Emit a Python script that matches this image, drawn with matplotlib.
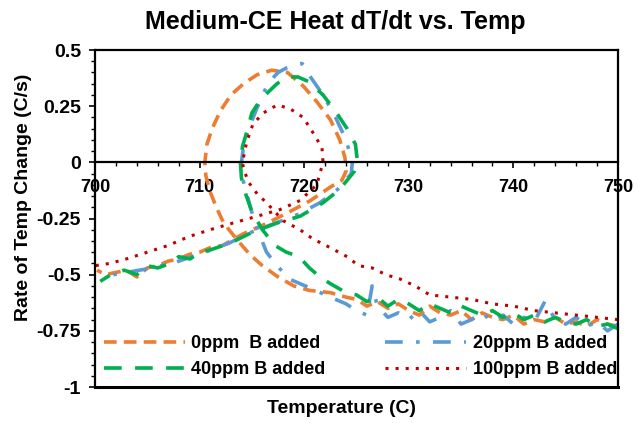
import matplotlib
matplotlib.use("Agg")
import matplotlib.pyplot as plt
from matplotlib.ticker import MultipleLocator

plt.rcParams['font.family'] = ['Liberation Sans', 'DejaVu Sans']

# ---- data (time order: from hot end toward cold end) ----
temp_0ppm = [750, 749, 748, 747, 746, 745, 744, 743, 742, 741, 740, 739, 738, 737, 736, 735, 734, 733, 732,
             731, 730, 729, 728, 727, 726, 725, 724, 722.5, 720.5, 719, 717.5,
             716, 714.8, 713.5, 712.3, 711.6, 711.0, 710.6, 710.5, 710.7, 711.2, 712.0, 713.0, 714.2, 715.5,
             716.9, 718.4, 719.9, 721.2, 722.5, 723.4, 723.9, 724.0, 723.6, 722.5, 720.6, 718.6, 716.5, 714.1,
             712.2, 711.0, 710.0, 709.0, 708.0, 707.0, 706.0, 705.0, 704.0, 703.0, 702.0, 701.0, 700.2]
rate_0ppm = [-0.73, -0.72, -0.70, -0.73, -0.71, -0.72, -0.69, -0.71, -0.70, -0.72, -0.68, -0.70, -0.69, -0.67,
             -0.70, -0.66, -0.68, -0.67, -0.64, -0.68, -0.66, -0.63, -0.65, -0.62, -0.64, -0.61, -0.60, -0.58,
             -0.57, -0.55, -0.51, -0.46, -0.41, -0.34, -0.27, -0.20, -0.13, -0.06, 0.0, 0.08, 0.15, 0.23,
             0.30, 0.35, 0.39, 0.41, 0.40, 0.34, 0.27, 0.19, 0.10, 0.02, -0.04, -0.08, -0.11, -0.17, -0.22,
             -0.27, -0.32, -0.37, -0.38, -0.40, -0.41, -0.43, -0.44, -0.46, -0.47, -0.51, -0.48, -0.49, -0.50,
             -0.48]

temp_20ppm = [750, 749, 748, 747, 746, 745, 744, 743, 742, 741, 740, 739, 738, 737, 736, 735, 734, 733, 732,
              731, 730, 729, 728, 727, 726.5, 726, 725, 724, 722.5, 720.6,
              718.6, 717.4, 716.4, 715.8, 715.1, 714.5, 714.1, 714.0, 714.2, 714.6, 715.3, 716.0, 716.7, 717.5,
              718.3, 719.0, 719.8, 720.6, 721.8, 723.0, 724.0, 724.6, 724.5, 723.2, 721.5, 719.5, 717.3, 715.0,
              712.8, 710.5, 708.0, 705.5, 703.0, 700.5]
rate_20ppm = [-0.72, -0.75, -0.71, -0.73, -0.69, -0.72, -0.70, -0.62, -0.71, -0.69, -0.72, -0.68, -0.71, -0.67,
              -0.70, -0.72, -0.66, -0.69, -0.71, -0.66, -0.70, -0.67, -0.69, -0.64, -0.55, -0.68, -0.66, -0.63,
              -0.60, -0.56, -0.52, -0.46, -0.40, -0.33, -0.24, -0.14, -0.07, 0.0, 0.07, 0.14, 0.22, 0.30,
              0.36, 0.40, 0.42, 0.43, 0.44, 0.38, 0.30, 0.20, 0.10, 0.0, -0.05, -0.12, -0.18, -0.23, -0.27,
              -0.31, -0.36, -0.40, -0.44, -0.47, -0.49, -0.51]

temp_40ppm = [750, 749, 748, 747, 746, 745, 744, 743, 742, 741, 740, 739, 738, 737, 736, 735, 734, 733, 732,
              731, 730, 729, 728, 727, 726, 725, 724, 722.5, 721.5, 720.5, 719.5,
              718.3, 717.2, 716.0, 715.0, 714.4, 714.0, 713.9, 714.1, 714.6, 715.0, 715.7, 716.5, 717.4, 718.4,
              719.4, 720.4, 721.8, 723.1, 724.1, 724.9, 725.1, 724.8, 723.4, 721.8, 719.6, 717.4, 715.1, 712.9,
              711.0, 710.0, 709.1, 708.0, 707.2, 706.0, 705.0, 704.0, 702.8, 701.5, 700.5]
rate_40ppm = [-0.74, -0.72, -0.73, -0.70, -0.72, -0.71, -0.69, -0.71, -0.68, -0.70, -0.67, -0.69, -0.66, -0.68,
              -0.66, -0.64, -0.67, -0.65, -0.63, -0.66, -0.63, -0.61, -0.64, -0.60, -0.62, -0.59, -0.58,
              -0.54, -0.51, -0.47, -0.42, -0.40, -0.37, -0.30, -0.22, -0.14, -0.07, 0.0, 0.07, 0.15, 0.22, 0.27,
              0.31, 0.35, 0.38, 0.38, 0.36, 0.30, 0.22, 0.15, 0.08, 0.0, -0.04, -0.12, -0.18, -0.24, -0.27,
              -0.31, -0.36, -0.39, -0.40, -0.43, -0.42, -0.45, -0.47, -0.46, -0.50, -0.48, -0.50, -0.53]

temp_100ppm = [750, 748, 746, 744, 742, 740, 738, 736, 734, 732, 730.6, 729.2, 727.8, 726.5, 725.2, 724.1,
               722.5, 720.8, 719.6, 718.0, 716.4, 715.5, 714.7, 714.2, 714.1, 714.5, 715.1, 716.1, 717.4, 718.6,
               719.9, 720.8, 721.7, 721.8, 721.2, 719.6, 717.7, 715.5, 713.2, 711.0, 709.0, 707.0, 705.0, 703.0,
               701.4, 700.0]
rate_100ppm = [-0.70, -0.69, -0.68, -0.67, -0.66, -0.64, -0.63, -0.61, -0.60, -0.59, -0.55, -0.52, -0.50, -0.47,
               -0.46, -0.42, -0.38, -0.34, -0.30, -0.26, -0.18, -0.14, -0.09, -0.03, 0.0, 0.09, 0.17, 0.22,
               0.255, 0.24, 0.20, 0.135, 0.065, 0.0, -0.10, -0.17, -0.21, -0.24, -0.27, -0.30, -0.33, -0.37,
               -0.40, -0.43, -0.45, -0.46]

labels = ["0ppm  B added", "20ppm B added", "40ppm B added", "100ppm B added"]
x_ticks = [700, 710, 720, 730, 740, 750]
y_ticks = [0.5, 0.25, 0, -0.25, -0.5, -0.75, -1]
y_ticklabels = ["0.5", "0.25", "0", "-0.25", "-0.5", "-0.75", "-1"]

# ---- figure ----
fig = plt.figure(figsize=(6.39, 4.23), dpi=100)
ax = fig.add_axes([95 / 639, 1 - 387 / 423, (618 - 95) / 639, (387 - 50) / 423])

lw = 2.6
l0, = ax.plot(temp_0ppm, rate_0ppm, color='#ED7D31', lw=lw, dashes=(3.5, 2.0), label=labels[0])
l1, = ax.plot(temp_20ppm, rate_20ppm, color='#5B9BD5', lw=lw, dashes=(4.9, 3.7, 1.0, 3.7), label=labels[1])
l2, = ax.plot(temp_40ppm, rate_40ppm, color='#00B050', lw=lw, dashes=(4.9, 3.7), label=labels[2])
l3, = ax.plot(temp_100ppm, rate_100ppm, color='#C00000', lw=2.2, dashes=(1.0, 2.3), label=labels[3])

ax.set_xlim(700, 750)
ax.set_ylim(-1, 0.5)

ax.spines['bottom'].set_position(('data', 0))
for s in ax.spines.values():
    s.set_linewidth(1.6)
    s.set_color('black')
ax.axhline(-1, color='black', lw=2.2, clip_on=False, zorder=5)

ax.set_xticks(x_ticks)
ax.xaxis.set_minor_locator(MultipleLocator(2))
ax.set_yticks(y_ticks)
ax.set_yticklabels(y_ticklabels)
ax.yaxis.set_minor_locator(MultipleLocator(0.05))
ax.tick_params(axis='both', which='major', direction='out', length=4, width=1.2, labelsize=14)
ax.tick_params(axis='x', which='major', labelsize=13, pad=8)
ax.tick_params(axis='both', which='minor', direction='out', length=3, width=1.0)
ax.tick_params(axis='y', pad=6)
for t in ax.get_xticklabels() + ax.get_yticklabels():
    t.set_fontweight('bold')

fig.text(335 / 639, 1 - 22 / 423, "Medium-CE Heat dT/dt vs. Temp", fontsize=18, fontweight='bold',
         ha='center', va='center')
fig.text(24 / 639, 1 - 197 / 423, "Rate of Temp Change (C/s)", fontsize=14, fontweight='bold',
         ha='center', va='center', rotation=90)
fig.text(342 / 639, 1 - 408 / 423, "Temperature (C)", fontsize=14, fontweight='bold',
         ha='center', va='center')

leg = ax.legend([l0, l2, l1, l3], [labels[0], labels[2], labels[1], labels[3]], ncol=2, frameon=False,
                loc='lower left', bbox_to_anchor=(5 / 523, 5 / 337), handlelength=4.5, columnspacing=3.3,
                handletextpad=0.35, labelspacing=0.5, borderaxespad=0.0, borderpad=0.2,
                prop={'size': 13, 'weight': 'bold'})

fig.savefig("out.png", dpi=100)
